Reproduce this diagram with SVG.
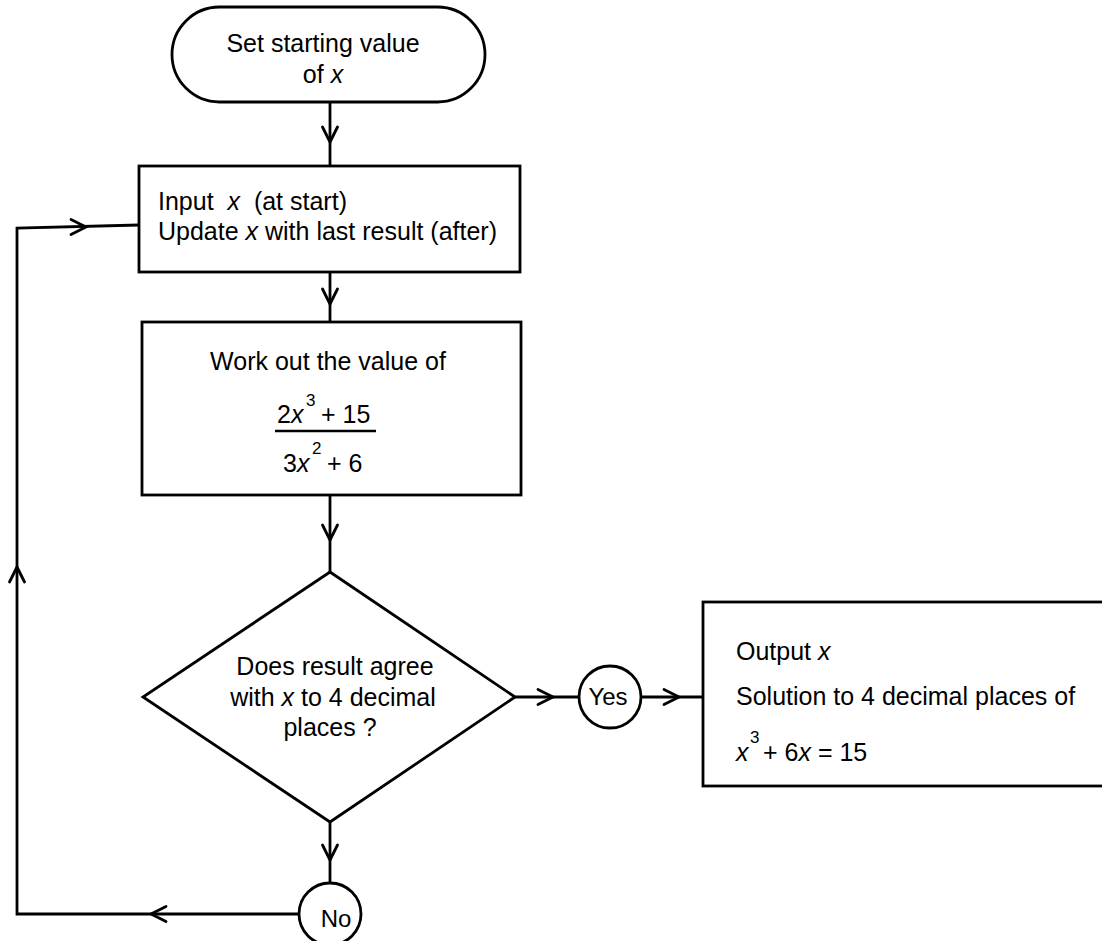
<svg xmlns="http://www.w3.org/2000/svg" width="1102" height="941" viewBox="0 0 1102 941">
<style>
.s{fill:#fff;stroke:#000;stroke-width:2.8}
.c{fill:none;stroke:#000;stroke-width:2.8}
.ch{fill:none;stroke:#000;stroke-width:2.8;stroke-linecap:round;stroke-linejoin:miter}
text{font-family:"Liberation Sans",Arial,sans-serif;font-size:25px;fill:#000;white-space:pre}
.m{text-anchor:middle}
.i{font-style:italic}
.sup{font-size:17px}
</style>
<defs>
<path id="chev" d="M-15,-7.5 L0,0 L-15,7.5" class="ch"/>
</defs>
<rect width="1102" height="941" fill="#fff"/>
<g id="connectors">
<path class="c" d="M330,102 V167"/>
<use href="#chev" transform="translate(330,142) rotate(90)"/>
<path class="c" d="M330,272 V322"/>
<use href="#chev" transform="translate(330,304) rotate(90)"/>
<path class="c" d="M330,495 V572"/>
<use href="#chev" transform="translate(330,540) rotate(90)"/>
<path class="c" d="M330,822 V883"/>
<use href="#chev" transform="translate(330,860) rotate(90)"/>
<path class="c" d="M515,697 H579"/>
<use href="#chev" transform="translate(553,697)"/>
<path class="c" d="M641,697 H703"/>
<use href="#chev" transform="translate(679,697)"/>
<path class="c" d="M299,914 H17 V228 L139,225"/>
<use href="#chev" transform="translate(151,914) rotate(180)"/>
<use href="#chev" transform="translate(17,567) rotate(-90)"/>
<use href="#chev" transform="translate(86,227)"/>
</g>
<g id="start">
<rect class="s" x="172" y="7" width="313" height="95" rx="47.5"/>
<text class="m" x="323" y="52">Set starting value</text>
<text class="m" x="323" y="83">of <tspan class="i">x</tspan></text>
</g>
<g id="input">
<rect class="s" x="139" y="166" width="381" height="106"/>
<text x="158" y="210">Input  <tspan class="i">x</tspan>  (at start)</text>
<text x="158" y="240">Update <tspan class="i">x</tspan> with last result (after)</text>
</g>
<g id="work">
<rect class="s" x="142" y="322" width="379" height="173"/>
<text class="m" x="328" y="370">Work out the value of</text>
<text x="277" y="423">2<tspan class="i">x</tspan></text>
<text class="sup" x="306" y="406">3</text>
<text x="321" y="423">+ 15</text>
<line x1="275" y1="431" x2="376" y2="431" stroke="#000" stroke-width="2.5"/>
<text x="283" y="472">3<tspan class="i">x</tspan></text>
<text class="sup" x="312" y="454">2</text>
<text x="327" y="472">+ 6</text>
</g>
<g id="decision">
<polygon class="s" points="330,572 515,697 330,822 143,697"/>
<text class="m" x="335" y="675">Does result agree</text>
<text class="m" x="333" y="706">with <tspan class="i">x</tspan> to 4 decimal</text>
<text class="m" x="330" y="736">places ?</text>
</g>
<g id="yes">
<circle class="s" cx="610" cy="697" r="31"/>
<text class="m" x="608" y="705" style="font-size:24px">Yes</text>
</g>
<g id="no">
<circle class="s" cx="330" cy="914" r="31"/>
<text class="m" x="336" y="927" style="font-size:24px">No</text>
</g>
<g id="output">
<rect class="s" x="703" y="602" width="420" height="184"/>
<text x="736" y="660">Output <tspan class="i">x</tspan></text>
<text x="736" y="705">Solution to 4 decimal places of</text>
<text x="736" y="761" class="i">x</text>
<text class="sup" x="750" y="743">3</text>
<text x="763" y="761">+ 6<tspan class="i">x</tspan> = 15</text>
</g>
</svg>
